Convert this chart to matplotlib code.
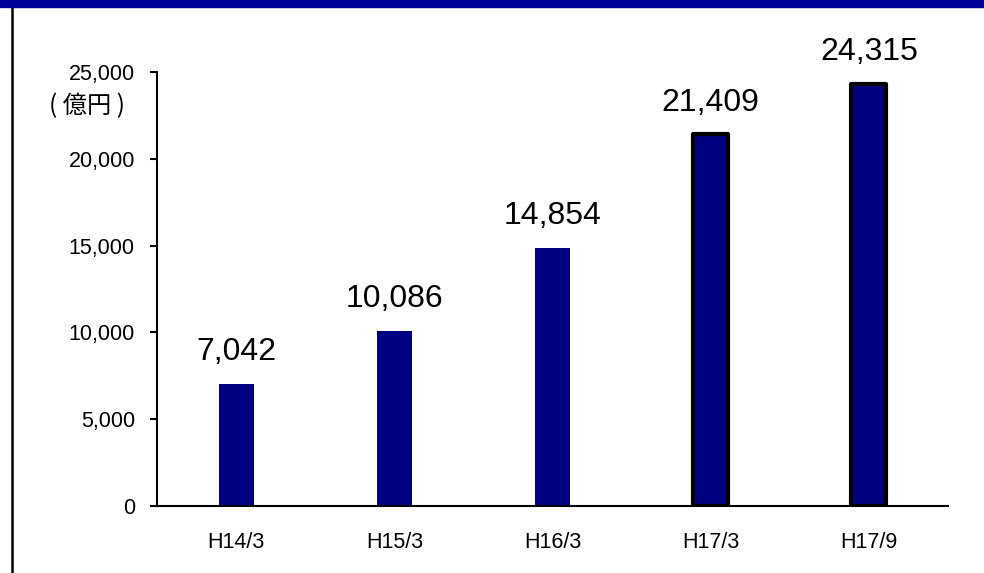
import matplotlib.pyplot as plt
from matplotlib.patches import Rectangle
from matplotlib.lines import Line2D

plt.rcParams['font.family'] = ['Liberation Sans', 'Noto Sans CJK JP', 'DejaVu Sans']

periods = ['H14/3', 'H15/3', 'H16/3', 'H17/3', 'H17/9']
amounts = [7042, 10086, 14854, 21409, 24315]
outlined = [False, False, False, True, True]
y_ticks = [0, 5000, 10000, 15000, 20000, 25000]
unit_label = '( 億円 )'

navy = '#000080'

fig = plt.figure(figsize=(9.84, 5.73), dpi=100)
ax = fig.add_axes([0.1596, 0.1169, 0.8038, 0.7574])

x = list(range(len(periods)))
bars = ax.bar(x, amounts, width=0.22, color=navy, zorder=2)
for bar, edge in zip(bars, outlined):
    if edge:
        bar.set_edgecolor('black')
        bar.set_linewidth(3)
        bar.set_joinstyle('round')

for xi, v in zip(x, amounts):
    ax.annotate(f'{v:,}', (xi, v), xytext=(0, 12), textcoords='offset points',
                ha='center', va='bottom', fontsize=23)

ax.set_xlim(-0.5, len(periods) - 0.5)
ax.set_ylim(0, 25000)
ax.set_yticks(y_ticks)
ax.set_yticklabels([f'{t:,}' for t in y_ticks], fontsize=15.5)
ax.set_xticks(x)
ax.set_xticklabels(periods, fontsize=15.5)
ax.tick_params(axis='y', length=5, width=1.5, pad=11)
ax.tick_params(axis='x', length=0, pad=19)

for side in ('top', 'right'):
    ax.spines[side].set_visible(False)
ax.spines['left'].set_linewidth(1.5)
ax.spines['bottom'].set_linewidth(1.5)

ax.text(-0.04, 0.921, unit_label, transform=ax.transAxes, ha='right', va='center',
        fontsize=17.5, family=['Noto Sans CJK JP', 'DejaVu Sans'])

# header band and left frame line
fig.patches.append(Rectangle((0, 1 - 7 / 573), 1, 7 / 573, transform=fig.transFigure,
                             color='#000099', zorder=5))
fig.lines.append(Line2D([12 / 984, 12 / 984], [0, 1 - 7 / 573], transform=fig.transFigure,
                        color='black', linewidth=1.8))

fig.savefig('out.png', dpi=100)
